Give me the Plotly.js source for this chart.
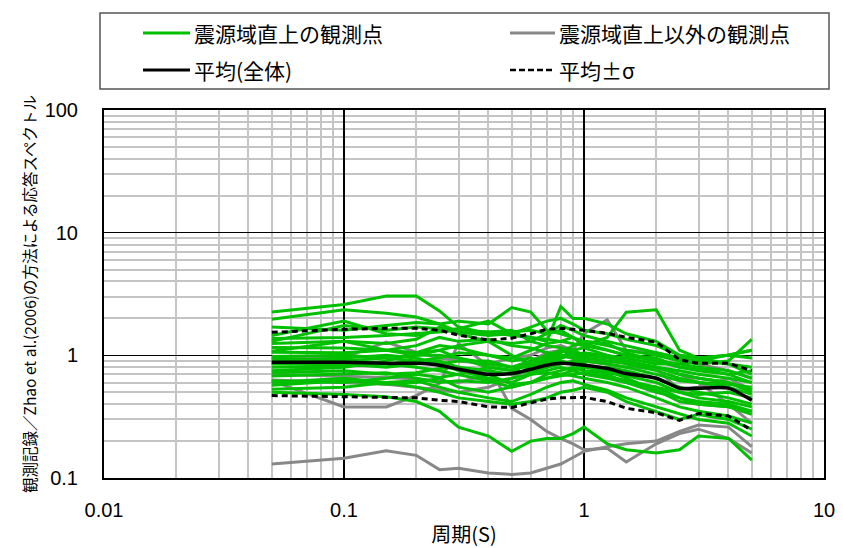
<!DOCTYPE html>
<html>
<head>
<meta charset="utf-8">
<script src="https://cdn.plot.ly/plotly-3.0.1.min.js"></script>
<style>html,body{margin:0;padding:0;background:#fff;}#chart{width:843px;height:548px;}</style>
</head>
<body>
<div id="chart"></div>
<script>
// Periods (s)
const periods = [0.05,0.1,0.15,0.2,0.25,0.3,0.4,0.5,0.6,0.7,0.8,0.9,1.0,1.25,1.5,2,2.5,3,4,5];

// Stations above the source region (green)
const g01 = [2.26,2.6,3.05,3.05,2.3,1.7,1.5,1.55,1.6,1.5,1.75,1.6,1.45,1.3,1.2,1.05,0.95,0.9,0.85,0.8];
const g02 = [1.97,2.35,2.2,2.05,1.8,1.55,1.45,1.5,1.7,1.9,2.0,1.8,1.6,1.5,1.35,1.2,1.0,0.95,1.0,1.1];
const g03 = [1.7,1.6,1.75,1.85,1.8,1.9,1.8,2.45,2.25,1.6,1.5,1.4,1.3,1.2,1.1,1.0,0.9,0.85,0.9,1.35];
const g04 = [1.45,1.9,1.5,1.45,1.6,1.65,1.9,1.5,1.4,1.3,2.5,2.0,2.0,1.8,1.5,1.3,1.0,0.95,0.85,0.7];
const g05 = [1.37,1.4,1.45,1.5,1.55,1.6,1.55,1.45,1.4,1.35,1.3,1.25,1.2,1.4,2.25,2.35,1.1,0.95,1.0,0.95];
const g06 = [1.25,1.3,1.25,1.35,1.7,1.5,1.3,1.25,1.3,1.5,1.6,1.4,1.2,1.1,1.0,0.9,0.85,0.8,0.75,0.65];
const g07 = [1.16,1.15,1.1,1.05,1.2,1.15,1.0,0.95,1.1,1.25,1.3,1.4,1.25,1.1,1.0,0.95,0.8,0.78,0.7,0.6];
const g08 = [1.06,1.05,1.1,1.0,1.0,0.95,0.85,0.8,0.9,1.0,1.1,1.05,1.0,0.95,0.9,0.8,0.7,0.65,0.6,0.5];
const g09 = [0.98,1.0,0.95,0.9,0.95,1.05,1.0,0.9,0.95,0.85,0.95,1.1,1.15,1.0,0.85,0.75,0.65,0.6,0.55,0.48];
const g10 = [0.95,0.9,0.95,1.0,1.1,1.2,1.3,1.0,0.85,0.9,1.0,0.95,0.9,0.85,0.8,0.7,0.62,0.6,0.58,0.55];
const g11 = [0.85,0.85,0.8,0.85,0.9,0.8,0.75,0.7,0.75,0.8,0.9,0.85,0.8,0.8,0.75,0.65,0.55,0.5,0.45,0.4];
const g12 = [0.8,0.82,0.85,0.9,0.85,0.75,0.65,0.6,0.7,0.75,0.8,0.75,0.7,0.65,0.6,0.55,0.5,0.45,0.42,0.38];
const g13 = [0.72,0.75,0.7,0.72,0.78,0.8,0.7,0.58,0.6,0.7,0.75,0.8,0.75,0.72,0.68,0.6,0.5,0.48,0.5,0.45];
const g14 = [0.68,0.7,0.72,0.65,0.6,0.62,0.6,0.65,0.7,0.72,0.7,0.75,0.8,0.75,0.65,0.52,0.42,0.4,0.38,0.33];
const g15 = [0.62,0.6,0.65,0.7,0.66,0.7,0.8,0.75,0.72,0.8,0.85,0.9,0.85,0.7,0.6,0.5,0.45,0.42,0.4,0.35];
const g16 = [0.57,0.62,0.58,0.6,0.65,0.55,0.5,0.55,0.6,0.65,0.7,0.68,0.65,0.6,0.55,0.45,0.38,0.35,0.32,0.28];
const g17 = [0.53,0.55,0.6,0.62,0.55,0.5,0.45,0.42,0.48,0.55,0.6,0.62,0.58,0.52,0.45,0.38,0.33,0.3,0.28,0.22];
const g18 = [0.5,0.48,0.46,0.42,0.35,0.26,0.22,0.165,0.2,0.21,0.21,0.23,0.26,0.19,0.17,0.16,0.17,0.22,0.21,0.14];
const g19 = [1.08,1.3,1.1,1.2,1.4,1.3,1.35,1.2,1.15,1.05,1.0,1.0,1.05,1.0,0.95,0.85,0.85,0.9,1.0,1.1];
const g20 = [0.9,0.95,1.0,0.95,0.85,0.9,0.9,0.8,0.8,0.9,0.95,1.0,0.95,0.9,0.85,0.8,0.75,0.7,0.65,0.6];
const g21 = [0.75,0.8,0.9,1.05,1.1,0.95,0.8,0.75,0.85,0.95,1.05,1.2,1.3,1.25,1.05,0.9,0.8,0.75,0.7,0.75];
const g22 = [1.3,1.75,1.6,1.7,1.65,1.55,1.55,1.6,1.3,1.2,1.15,1.1,1.0,1.0,0.9,0.8,0.7,0.65,0.6,0.52];
const g23 = [0.6,0.65,0.6,0.55,0.5,0.45,0.42,0.4,0.42,0.45,0.5,0.52,0.55,0.5,0.42,0.35,0.3,0.33,0.3,0.25];
const g24 = [0.88,0.92,0.85,0.8,0.75,0.7,0.62,0.55,0.6,0.65,0.68,0.7,0.72,0.68,0.62,0.55,0.45,0.4,0.38,0.35];
const greenSeries = [g01,g02,g03,g04,g05,g06,g07,g08,g09,g10,g11,g12,g13,g14,g15,g16,g17,g18,g19,g20,g21,g22,g23,g24];

// Other stations (gray)
const gA = [0.13,0.145,0.167,0.153,0.117,0.12,0.11,0.107,0.11,0.12,0.13,0.147,0.165,0.18,0.19,0.2,0.24,0.27,0.26,0.18];
const gB = [0.62,0.38,0.38,0.47,0.59,1.25,0.82,0.37,0.3,0.24,0.21,0.19,0.17,0.175,0.135,0.19,0.23,0.25,0.21,0.16];
const gC = [0.93,0.96,1.28,1.06,0.95,0.9,0.85,0.95,1.0,1.15,1.2,1.1,1.5,1.95,1.1,1.05,0.95,0.85,0.75,0.65];
const gD = [0.63,0.6,0.58,0.55,0.52,0.5,0.55,0.65,0.8,0.95,1.0,0.95,0.9,0.85,0.8,0.78,0.52,0.55,0.65,0.52];
const gE = [0.7,0.68,0.66,0.64,0.62,0.6,0.7,0.72,0.9,1.05,1.1,1.0,0.95,0.9,0.85,0.8,0.7,0.6,0.4,0.28];
const graySeries = [gA,gB,gC,gD,gE];

// Mean and mean ± sigma
const meanAll = [0.877,0.877,0.86,0.86,0.83,0.77,0.70,0.71,0.77,0.83,0.86,0.85,0.83,0.78,0.71,0.65,0.54,0.54,0.54,0.43];
const meanPlus = [1.54,1.63,1.66,1.66,1.6,1.46,1.33,1.38,1.5,1.63,1.66,1.63,1.6,1.51,1.4,1.28,0.92,0.86,0.86,0.75];
const meanMinus = [0.47,0.46,0.455,0.45,0.43,0.42,0.38,0.376,0.41,0.44,0.45,0.455,0.455,0.42,0.37,0.34,0.295,0.336,0.32,0.245];

// Legend labels
const legendLabels = ['震源域直上の観測点','震源域直上以外の観測点','平均(全体)','平均±σ'];

const GREEN = '#00c000', GRAY = '#888888', BLACK = '#000000';

const traces = [];
graySeries.forEach(s => traces.push({x: periods, y: s, type:'scatter', mode:'lines', line:{color:GRAY, width:3}, showlegend:false, hoverinfo:'skip'}));
greenSeries.forEach(s => traces.push({x: periods, y: s, type:'scatter', mode:'lines', line:{color:GREEN, width:3}, showlegend:false, hoverinfo:'skip'}));
traces.push({x: periods, y: meanAll, type:'scatter', mode:'lines', line:{color:BLACK, width:3.5, shape:'spline', smoothing:0.6}, showlegend:false});
traces.push({x: periods, y: meanPlus, type:'scatter', mode:'lines', line:{color:BLACK, width:3, dash:'6px,4px'}, showlegend:false});
traces.push({x: periods, y: meanMinus, type:'scatter', mode:'lines', line:{color:BLACK, width:3, dash:'6px,4px'}, showlegend:false});

// Layout helpers (pixel -> paper)
const L = 104, R = 824, T = 110, B = 478;
const px = v => (v - L) / (R - L);
const py = v => (B - v) / (B - T);

const minorX = [], minorY = [];
[0.01,0.1,1].forEach(d => { for (let k=2;k<=9;k++) minorX.push(+(d*k).toPrecision(3)); });
[0.1,1,10].forEach(d => { for (let k=2;k<=9;k++) minorY.push(+(d*k).toPrecision(3)); });

const shapes = [
  {type:'rect', xref:'paper', yref:'paper', x0:px(100), x1:px(829), y0:py(89), y1:py(13), line:{color:'#555', width:1.5}, fillcolor:'rgba(0,0,0,0)'},
  {type:'line', xref:'paper', yref:'paper', x0:px(143), x1:px(190), y0:py(33), y1:py(33), line:{color:GREEN, width:3}},
  {type:'line', xref:'paper', yref:'paper', x0:px(510), x1:px(555), y0:py(33), y1:py(33), line:{color:GRAY, width:3}},
  {type:'line', xref:'paper', yref:'paper', x0:px(143), x1:px(190), y0:py(70), y1:py(70), line:{color:BLACK, width:3}},
  {type:'line', xref:'paper', yref:'paper', x0:px(510), x1:px(555), y0:py(70), y1:py(70), line:{color:BLACK, width:2.5, dash:'6px,3px'}}
];
const legFont = {family:'"Noto Sans CJK JP", sans-serif', size:21, color:'#000'};
const annotations = [
  {xref:'paper', yref:'paper', x:px(192), y:py(33), text:legendLabels[0], showarrow:false, xanchor:'left', yanchor:'middle', font:legFont},
  {xref:'paper', yref:'paper', x:px(557), y:py(33), text:legendLabels[1], showarrow:false, xanchor:'left', yanchor:'middle', font:legFont},
  {xref:'paper', yref:'paper', x:px(192), y:py(70), text:legendLabels[2], showarrow:false, xanchor:'left', yanchor:'middle', font:legFont},
  {xref:'paper', yref:'paper', x:px(557), y:py(70), text:legendLabels[3], showarrow:false, xanchor:'left', yanchor:'middle', font:legFont}
];

const tickFont = {family:'"Liberation Sans", Arial, sans-serif', size:20, color:'#000'};
const layout = {
  width:843, height:548,
  margin:{l:L, r:843-R, t:T, b:548-B},
  paper_bgcolor:'#fff', plot_bgcolor:'#fff',
  showlegend:false,
  xaxis:{
    type:'log', range:[-2,1], tickmode:'array',
    tickvals:[0.01,0.1,1,10], ticktext:['0.01','0.1','1','10'],
    showgrid:true, gridcolor:'#000', gridwidth:1.2,
    minor:{tickmode:'array', tickvals:minorX, showgrid:true, gridcolor:'#c4c4c4', gridwidth:2, ticks:''},
    showline:true, linecolor:'#000', linewidth:2, mirror:true, ticks:'', zeroline:false,
    tickfont:tickFont, ticklabelstandoff:13,
    title:{text:'周期(S)', font:{family:'"Noto Sans CJK JP", sans-serif', size:20, color:'#000'}, standoff:12}
  },
  yaxis:{
    type:'log', range:[-1,2], tickmode:'array',
    tickvals:[0.1,1,10,100], ticktext:['0.1','1','10','100'],
    showgrid:true, gridcolor:'#000', gridwidth:1.2,
    minor:{tickmode:'array', tickvals:minorY, showgrid:true, gridcolor:'#c4c4c4', gridwidth:2, ticks:''},
    showline:true, linecolor:'#000', linewidth:2, mirror:true, ticks:'', zeroline:false,
    tickfont:tickFont, ticklabelstandoff:20,
    title:{text:'観測記録／Zhao et al.(2006)の方法による応答スペクトル', font:{family:'"Noto Sans CJK JP", sans-serif', size:15.5, color:'#000'}, standoff:4}
  },
  shapes:shapes, annotations:annotations
};

Plotly.newPlot('chart', traces, layout, {displayModeBar:false, staticPlot:true});
</script>
</body>
</html>
